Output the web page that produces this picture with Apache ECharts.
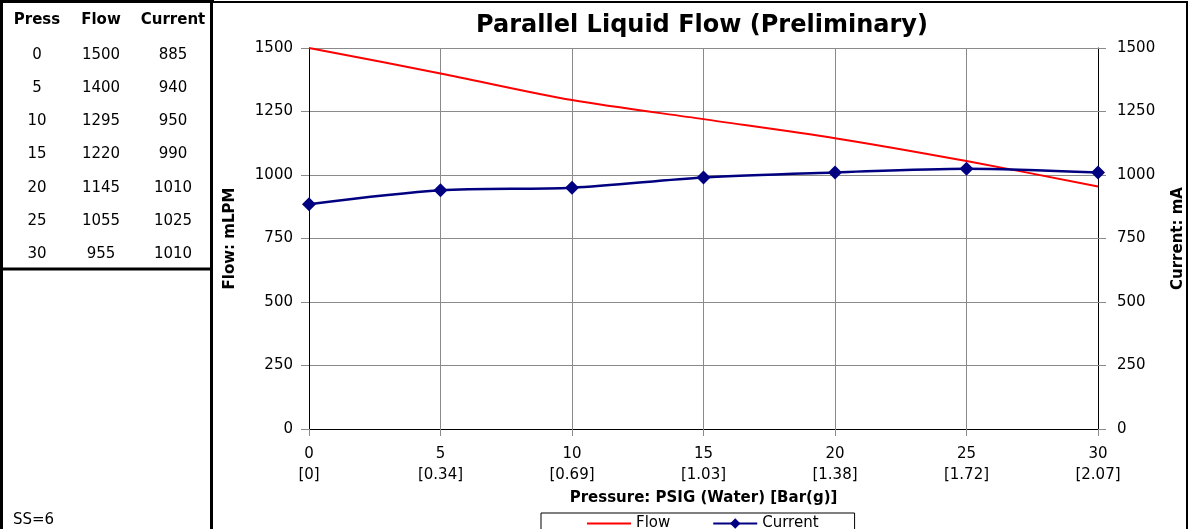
<!DOCTYPE html>
<html>
<head>
<meta charset="utf-8">
<script src="https://cdn.jsdelivr.net/npm/echarts@6/dist/echarts.min.js"></script>
<style>
html,body{margin:0;padding:0;background:#fff;}
#chart{width:1192px;height:529px;}
</style>
</head>
<body>
<div id="chart"></div>
<script>
// ---- data ----
const pressure = [0, 5, 10, 15, 20, 25, 30];
const barLabels = ['0', '0.34', '0.69', '1.03', '1.38', '1.72', '2.07'];
const flow = [1500, 1400, 1295, 1220, 1145, 1055, 955];
const current = [885, 940, 950, 990, 1010, 1025, 1010];
const tableHeader = ['Press', 'Flow', 'Current'];
const ssNote = 'SS=6';
const titleText = 'Parallel Liquid Flow (Preliminary)';

const FONT = '"DejaVu Sans", Verdana, sans-serif';
const chart = echarts.init(document.getElementById('chart'), null, {renderer: 'canvas'});

// table graphics built from data arrays
const colX = [37, 101, 173];
const graphics = [];
tableHeader.forEach((h, i) => {
  graphics.push({type: 'text', x: colX[i], y: 20, style: {text: h, font: 'bold 15px ' + FONT, fill: '#000', textAlign: 'center', textVerticalAlign: 'middle'}});
});
pressure.forEach((p, r) => {
  const row = [String(p), String(flow[r]), String(current[r])];
  row.forEach((v, i) => {
    graphics.push({type: 'text', x: colX[i], y: 55 + r * 33.2, style: {text: v, font: '15px ' + FONT, fill: '#000', textAlign: 'center', textVerticalAlign: 'middle'}});
  });
});
graphics.push({type: 'text', x: 13, y: 520, style: {text: ssNote, font: '15px ' + FONT, fill: '#000', textVerticalAlign: 'middle'}});
// frames
graphics.push({type: 'line', shape: {x1: 1.5, y1: 0, x2: 1.5, y2: 529}, style: {stroke: '#000', lineWidth: 3}});
graphics.push({type: 'line', shape: {x1: 0, y1: 1.5, x2: 214, y2: 1.5}, style: {stroke: '#000', lineWidth: 3}});
graphics.push({type: 'line', shape: {x1: 211.5, y1: 0, x2: 211.5, y2: 529}, style: {stroke: '#000', lineWidth: 3}});
graphics.push({type: 'line', shape: {x1: 0, y1: 269, x2: 213, y2: 269}, style: {stroke: '#000', lineWidth: 3}});
graphics.push({type: 'line', shape: {x1: 213, y1: 2, x2: 1188, y2: 2}, style: {stroke: '#000', lineWidth: 2}});
graphics.push({type: 'line', shape: {x1: 1187, y1: 2, x2: 1187, y2: 529}, style: {stroke: '#000', lineWidth: 2}});
// title
graphics.push({type: 'text', x: 702, y: 26, style: {text: titleText, font: 'bold 24px ' + FONT, fill: '#000', textAlign: 'center', textVerticalAlign: 'middle'}});

const gridColor = '#8a8a8a';
const yAxisCommon = {
  type: 'value', min: 0, max: 1500, interval: 250,
  nameLocation: 'middle',
  nameTextStyle: {fontFamily: FONT, fontWeight: 'bold', fontSize: 15, color: '#000'},
  axisLine: {show: true, lineStyle: {color: '#000', width: 1}},
  axisTick: {show: true, length: 8, lineStyle: {color: gridColor}},
  axisLabel: {fontFamily: FONT, fontSize: 15, color: '#000', formatter: function (v) { return String(v); }}
};

chart.setOption({
  animation: false,
  backgroundColor: '#fff',
  grid: {left: 309, right: 94, top: 48, bottom: 100, containLabel: false, outerBoundsMode: 'none'},
  xAxis: {
    type: 'value', min: 0, max: 30, interval: 5,
    name: 'Pressure: PSIG (Water) [Bar(g)]',
    nameLocation: 'middle', nameGap: 61,
    nameTextStyle: {fontFamily: FONT, fontWeight: 'bold', fontSize: 15, color: '#000'},
    axisLine: {show: true, onZero: false, lineStyle: {color: '#000', width: 1}},
    axisTick: {show: true, length: 7, lineStyle: {color: gridColor}},
    axisLabel: {
      fontFamily: FONT, fontSize: 15, color: '#000', lineHeight: 21, margin: 15,
      formatter: function (v) {
        const i = pressure.indexOf(v);
        return v + '\n[' + (i >= 0 ? barLabels[i] : '') + ']';
      }
    },
    splitLine: {show: true, lineStyle: {color: gridColor, width: 1}}
  },
  yAxis: [
    Object.assign({}, yAxisCommon, {
      position: 'left', name: 'Flow: mLPM', nameGap: 71,
      axisLabel: Object.assign({}, yAxisCommon.axisLabel, {margin: 16}),
      splitLine: {show: true, lineStyle: {color: gridColor, width: 1}}
    }),
    Object.assign({}, yAxisCommon, {
      position: 'right', name: 'Current: mA', nameGap: 73, nameRotate: 90,
      axisLabel: Object.assign({}, yAxisCommon.axisLabel, {margin: 19}),
      splitLine: {show: false}
    })
  ],
  legend: {
    left: 541, top: 513,
    padding: [3, 36, 10, 46],
    itemWidth: 44, itemHeight: 13, itemGap: 42,
    borderColor: '#000', borderWidth: 1, borderRadius: 0,
    textStyle: {fontFamily: FONT, fontSize: 15, color: '#000'},
    data: [{name: 'Flow', icon: 'path://M0 0H44V2H0Z'}, 'Current']
  },
  series: [
    {
      name: 'Flow', type: 'line', yAxisIndex: 0,
      data: pressure.map((p, i) => [p, flow[i]]),
      smooth: 0.3, symbol: 'none',
      lineStyle: {color: '#ff0000', width: 2}, itemStyle: {color: '#ff0000'}
    },
    {
      name: 'Current', type: 'line', yAxisIndex: 1,
      data: pressure.map((p, i) => [p, current[i]]),
      smooth: 0.3, symbol: 'diamond', symbolSize: 14,
      lineStyle: {color: '#000080', width: 2.5}, itemStyle: {color: '#000080'}
    }
  ],
  graphic: graphics
});
</script>
</body>
</html>
